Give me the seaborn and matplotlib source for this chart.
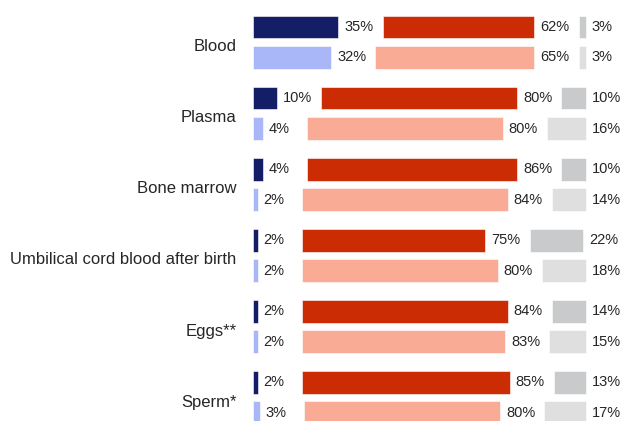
import matplotlib
matplotlib.use("Agg")
import matplotlib.pyplot as plt
import numpy as np
import seaborn as sns

# data (two rows per category)
categories = ["Blood", "Plasma", "Bone marrow",
              "Umbilical cord blood after birth", "Eggs**", "Sperm*"]
yes_1 = [35, 10, 4, 2, 2, 2]
no_1 = [62, 80, 86, 75, 84, 85]
dk_1 = [3, 10, 10, 22, 14, 13]
yes_2 = [32, 4, 2, 2, 2, 3]
no_2 = [65, 80, 84, 80, 83, 80]
dk_2 = [3, 16, 14, 18, 15, 17]

colors_1 = ["#131e66", "#cc2c04", "#c9cacc"]
colors_2 = ["#a9b6f8", "#faab96", "#dfdfdf"]

GAP = 18          # room left after each segment for its label
GROUP = 2.33      # distance between categories
BAR_H = 0.75
TEXT = "#262626"

sns.set_theme(style="white")
plt.rcParams["font.family"] = ["Liberation Sans", "DejaVu Sans"]

fig = plt.figure(figsize=(6.23, 4.21), dpi=100)
ax = fig.add_axes([252.7 / 623, 0, 1 - 252.7 / 623, 1])

base = np.arange(len(categories)) * GROUP
rows = [(base, [yes_1, no_1, dk_1], colors_1),
        (base + 1, [yes_2, no_2, dk_2], colors_2)]

for ypos, series, cols in rows:
    left = np.zeros(len(categories))
    for vals, col in zip(series, cols):
        vals = np.array(vals, dtype=float)
        ax.barh(ypos, vals, left=left, height=BAR_H, color=col,
                edgecolor="white", linewidth=0.4)
        for y, l, v in zip(ypos, left, vals):
            ax.text(l + v + 2.4, y, f"{int(v)}%", va="center", ha="left",
                    fontsize=10.5, color=TEXT)
        left = left + vals + GAP

ax.set_xlim(0, (623 - 252.7) / 2.45)
ax.set_ylim(-0.885 + 421 / 30.5, -0.885)
ax.set_yticks(base + 0.5 + 0.1)
ax.set_yticklabels(categories, fontsize=12, color=TEXT)
ax.tick_params(axis="y", length=0, pad=11.5)
ax.set_xticks([])
sns.despine(ax=ax, left=True, bottom=True)

fig.savefig("out.png", dpi=100)
